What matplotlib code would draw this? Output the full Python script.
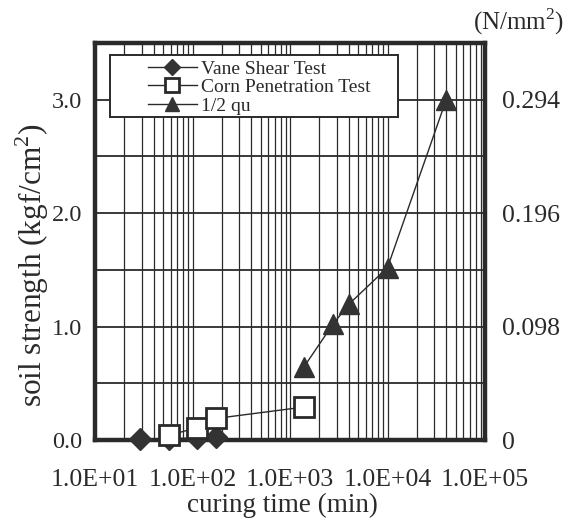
import matplotlib
matplotlib.use("Agg")
import matplotlib.pyplot as plt
from matplotlib.patches import Rectangle
from matplotlib.ticker import LogLocator, FixedLocator, NullFormatter, FixedFormatter

plt.rcParams['font.family'] = ['Liberation Serif', 'DejaVu Serif']
plt.rcParams['mathtext.fontset'] = 'custom'
plt.rcParams['mathtext.rm'] = 'Liberation Serif'

vane_t = [29, 57, 112, 174]
vane_s = [0.01, 0.01, 0.02, 0.03]
corn_t = [57, 112, 174, 1380]
corn_s = [0.04, 0.11, 0.19, 0.29]
qu_t = [1380, 2750, 4050, 10000, 40000]
qu_s = [0.64, 1.02, 1.20, 1.52, 3.00]

x_ticks = [10, 100, 1000, 10000, 100000]
x_labels = ["1.0E+01", "1.0E+02", "1.0E+03", "1.0E+04", "1.0E+05"]
y_ticks = [0.0, 1.0, 2.0, 3.0]
y_labels = ["0.0", "1.0", "2.0", "3.0"]
r_labels = ["0", "0.098", "0.196", "0.294"]

ink = '#2a2a2a'
fig = plt.figure(figsize=(5.75, 5.21), dpi=100)
ax = fig.add_axes([95/575, 1-440/521, 390/575, 397/521])
ax.set_xscale('log')
ax.set_xlim(10, 100000)
ax.set_ylim(0, 3.5)

ax.xaxis.set_major_locator(FixedLocator(x_ticks))
ax.xaxis.set_major_formatter(FixedFormatter(x_labels))
ax.xaxis.set_minor_locator(LogLocator(base=10, subs=range(2, 10)))
ax.xaxis.set_minor_formatter(NullFormatter())
ax.yaxis.set_major_locator(FixedLocator(y_ticks))
ax.yaxis.set_major_formatter(FixedFormatter(y_labels))
ax.yaxis.set_minor_locator(FixedLocator([0.5, 1.5, 2.5]))

ax.grid(True, which='both', axis='x', color=ink, lw=0.9)
ax.grid(True, which='both', axis='y', color=ink, lw=1.3)
ax.set_axisbelow(True)
for s in ax.spines.values():
    s.set_linewidth(3.2)
    s.set_color(ink)

ax.tick_params(which='both', length=0, labelcolor=ink)
ax.tick_params(axis='x', labelsize=18.5, pad=21)
ax.tick_params(axis='y', labelsize=17.5, pad=9)

ax.plot(vane_t, vane_s, '-', color=ink, marker='D', ms=11, mfc='#333333', mec='#333333', lw=1,
        label='Vane Shear Test', zorder=3, clip_on=False)
ax.plot(corn_t, corn_s, '-', color=ink, marker='s', ms=14, mfc='white', mec=ink, mew=2.0, lw=1,
        label='Corn Penetration Test', zorder=4, clip_on=False)
ax.plot(qu_t, qu_s, '-', color=ink, marker='^', ms=14, mfc='#333333', mec='#333333', lw=1,
        label='1/2 qu', zorder=5, clip_on=False)

# legend frame
frame = Rectangle(((110-95)/390, (440-117)/397), (398-110)/390, (117-55)/397,
                  transform=ax.transAxes, facecolor='white', edgecolor=ink, lw=1.4, zorder=8)
ax.add_patch(frame)
leg = ax.legend(loc='upper left', bbox_to_anchor=((148-95)/390, (440-60)/397), fontsize=14,
                frameon=False, borderpad=0, labelspacing=0.05, handlelength=2.5,
                handletextpad=0.25, borderaxespad=0, markerscale=0.75)
leg.set_zorder(9)
for t in leg.get_texts():
    t.set_color(ink)

fig.text(32/575, 1-265/521, 'soil strength (kgf/cm$^2$)', rotation=90, ha='center', va='center',
         fontsize=22.5, color=ink)
fig.text(282/575, 1-505/521, 'curing time (min)', ha='center', va='center', fontsize=19.5, color=ink)

ax2 = ax.twinx()
ax2.set_ylim(0, 3.5)
ax2.yaxis.set_major_locator(FixedLocator(y_ticks))
ax2.yaxis.set_major_formatter(FixedFormatter(r_labels))
ax2.tick_params(labelsize=18.5, length=0, pad=12, labelcolor=ink)
for s in ax2.spines.values():
    s.set_visible(False)
fig.text(519/575, 1-22/521, '(N/mm$^2$)', ha='center', va='center', fontsize=18, color=ink)

fig.savefig('out.png', dpi=100)
